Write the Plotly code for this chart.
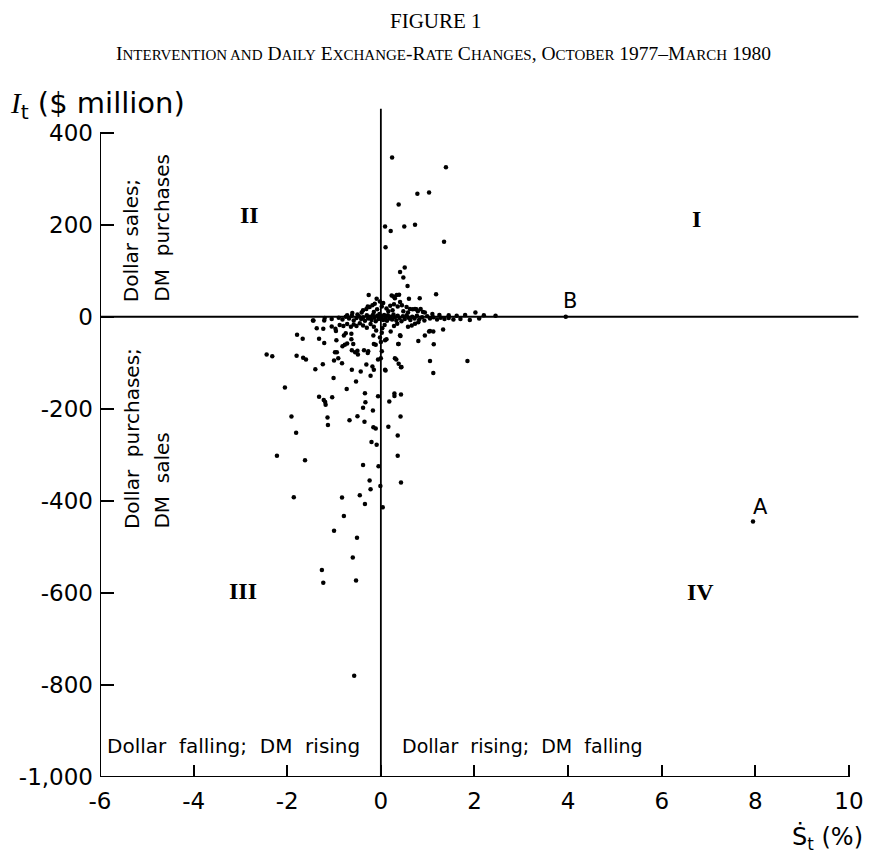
import plotly.graph_objects as go

# Daily exchange-rate change (%) and intervention ($ million)
s_t = [
    0.24, 1.39, 0.78, 1.03, 0.38, 0.09, 0.21, 0.50, 0.73, 1.35, 0.10, 0.51, 0.41, 0.48, 0.57, 1.18,
    -0.26, -0.09, 0.23, 0.27, 0.34, 0.39, 0.60, 0.83, 0.41, 0.30, 0.05, -0.18, -0.13, -0.02, 0.20,
    0.28, 0.36, 0.45, 0.55, 0.62, 0.73, 0.79, 0.68, 0.76, 0.85, 0.90, 0.94, 2.02, -0.61, -0.41,
    -0.38, -0.31, -0.24, -0.28, 0.12, 0.16, -0.08, 0.02, 0.25, 0.48, 0.58, -0.50, -0.15, 1.10,
    1.25, 1.45, 1.62, 1.80, 2.20, 2.45, -0.72,
    -0.90, -0.82, -0.75, -0.68, -0.62, -0.58, -0.52, -0.47, -0.42, -0.38, -0.34, -0.30, -0.27,
    -0.23, -0.20, -0.17, -0.14, -0.11, -0.08, -0.05, -0.03, 0.00, 0.02, 0.05, 0.07, 0.10, 0.13,
    0.15, 0.18, 0.21, 0.24, 0.27, 0.30, 0.33, 0.36, 0.40, 0.44, 0.47, 0.51, 0.55, 0.59, 0.63,
    0.67, 0.72, 0.77, 0.82, 0.88, 0.93, 0.99, 1.05, 1.12, 1.20, 1.28, 1.36, 1.45, 1.55, 1.70,
    1.90, 2.10, -1.05, -1.20, -1.45, -1.21, -1.37,
    -1.79, -1.67, -1.44, -1.23, -1.05, -0.97, -0.96, -0.88, -0.80, -0.72, -0.64, -0.58, -0.52,
    -0.45, -0.38, -0.30, -0.22, -0.15, -0.79, -0.75, -0.63, -0.63, -0.16, -0.10, 0.03, 0.08,
    0.21, 0.28, 0.35, 0.42, 0.41, 0.58, 0.66, 0.73, 0.80, 0.94, 1.03, 1.12, 1.33, 1.05, 0.12,
    0.09, -0.02, 0.02,
    -2.44, -2.32, -1.80, -1.66, -1.60, -1.32, -1.21, -0.95, -0.59, -0.77, -0.72, -0.82, -0.98,
    -0.94, -0.91, -1.00, -0.83, -0.62, -0.55, -0.50, -0.36, -0.28, -0.49, -0.27, -0.15, -0.11,
    0.00, 0.02, 0.00, 0.38, 0.37, 0.80, 1.13, 0.30, 0.33, 0.38, 0.43, 0.44, 0.10, 0.09, -0.06,
    1.05, 1.85, 1.12, -1.40, -1.24, -1.01, -0.62, -0.43, -0.31, -0.18, -0.15, -0.22, -0.53,
    -0.73, -2.05, -0.34, -0.06, 0.29, 0.29, 0.43, 0.18, -1.32, -1.22, -1.19, -1.18, -1.04,
    -0.33, -0.38, -0.17, -1.91, -1.14, -1.13, -0.67, -0.50, -0.35, -0.16, -0.11, 0.16, 0.42,
    -1.81, 0.36, -0.20, -0.09, -2.22, -1.62, 0.36, -0.38, -0.05, 0.43, -0.24, -0.01, -0.22,
    -1.86, -0.83, -0.45, -0.34, -0.79, 0.04, -1.00, -0.51, -0.60, -1.23, -0.53, -0.57, -1.26,
    3.95, 7.95,
]
i_t = [
    346, 325, 267, 270, 244, 196, 186, 196, 200, 163, 151, 107, 97, 85, 67, 49,
    47, 39, 46, 44, 47, 48, 39, 40, 32, 40, 30, 25, 28, 33, 24,
    27, 22, 25, 21, 17, 17, 12, 16, 16, 17, 10, 9, 9, 8, 9,
    14, 17, 21, 22, 18, 12, 16, 22, 14, 12, 9, 5, 10, 6,
    4, 3, 2, 4, 3, 2, 3,
    -2, -6, 0, -4, 2, -8, -3, 1, -5, -1, -9, 3, -4,
    0, -7, 4, -2, -10, 2, -5, 6, -3, 1, -7, 4, -2, -9,
    3, -4, 0, -6, 5, -1, -8, 2, -3, -10, 1, -5, 3, -2, -7,
    0, -4, 2, -6, -1, -8, 1, -4, -1, -6, -2, -5, -3, -6, -5,
    -7, -4, -5, -3, -8, -8, -25,
    -39, -48, -8, -26, -21, -26, -31, -18, -20, -16, -22, -17, -20,
    -14, -19, -24, -16, -22, -41, -36, -37, -49, -41, -30, -25, -18,
    -32, -20, -15, -42, -40, -22, -19, -15, -12, -41, -32, -32, -28, -31, -49,
    -51, -45, -35,
    -82, -86, -85, -89, -93, -48, -57, -51, -59, -61, -58, -64, -77,
    -77, -90, -95, -101, -73, -77, -74, -73, -79, -82, -75, -59, -61,
    -55, -75, -90, -59, -59, -53, -60, -90, -93, -102, -110, -109, -117, -115, -93,
    -96, -96, -122, -114, -103, -133, -115, -119, -104, -108, -115, -128, -141,
    -157, -154, -166, -173, -167, -172, -169, -184, -174, -181, -185, -191, -175,
    -186, -198, -204, -217, -219, -235, -225, -216, -228, -240, -243, -239, -217,
    -252, -258, -272, -278, -302, -312, -302, -322, -325, -360, -356, -368, -375,
    -392, -393, -388, -407, -433, -414, -465, -480, -523, -578, -573, -780, -550,
    0, -445,
]

x_ticks = [-6, -4, -2, 0, 2, 4, 6, 8, 10]
x_tick_text = ["-6", "-4", "-2", "0", "2", "4", "6", "8", "10"]
y_ticks = [-1000, -800, -600, -400, -200, 0, 200, 400]
y_tick_text = ["-1,000", "-800", "-600", "-400", "-200", "0", "200", "400"]

SANS = "DejaVu Sans"
SERIF = "Liberation Serif"

fig = go.Figure()
fig.add_trace(go.Scatter(
    x=s_t, y=i_t, mode="markers",
    marker=dict(size=4.5, color="black", line=dict(width=0)),
    showlegend=False, hoverinfo="skip",
))

line = dict(color="black", width=2)
shapes = [
    dict(type="line", xref="x", yref="y", x0=-6, x1=-6, y0=-1000, y1=400, line=line),
    dict(type="line", xref="x", yref="y", x0=-6, x1=10, y0=-1000, y1=-1000, line=line),
    dict(type="line", xref="x", yref="y", x0=-6, x1=10.2, y0=0, y1=0, line=dict(color="black", width=1.8)),
    dict(type="line", xref="x", yref="y", x0=0, x1=0, y0=-1000, y1=452, line=dict(color="black", width=1.8)),
]

sc = "font-size:15px"
subtitle = (f"I<span style='{sc}'>NTERVENTION AND</span> D<span style='{sc}'>AILY</span> "
            f"E<span style='{sc}'>XCHANGE</span>-R<span style='{sc}'>ATE</span> "
            f"C<span style='{sc}'>HANGES</span>, O<span style='{sc}'>CTOBER</span> 1977–"
            f"M<span style='{sc}'>ARCH</span> 1980")

ann = []
def A(text, x, y, size, family=SANS, xref="x", yref="y", xanchor="center", yanchor="middle", angle=0):
    ann.append(dict(text=text, x=x, y=y, xref=xref, yref=yref, xanchor=xanchor, yanchor=yanchor,
                    textangle=angle, showarrow=False, font=dict(family=family, size=size, color="black")))

A("FIGURE 1", 0.440, 1.125, 21, SERIF, "paper", "paper")
A(subtitle, 0.450, 1.077, 19.5, SERIF, "paper", "paper")
A("<span style='font-family:Liberation Serif'><i>I</i></span><sub>t</sub> ($ million)",
  -0.121, 1.0, 29, SANS, "paper", "paper", xanchor="left")
A("Ṡ<sub>t</sub> (%)", 1.003, -0.091, 24, SANS, "paper", "paper", xanchor="right")

A("<b>II</b>", -2.8, 222, 24, SERIF)
A("<b>I</b>", 6.75, 213, 24, SERIF)
A("<b>III</b>", -2.95, -596, 24, SERIF)
A("<b>IV</b>", 6.82, -598, 24, SERIF)
A("B", 4.04, 35, 21)
A("A", 8.1, -413, 21)

A("Dollar sales;", -5.32, 28, 20, angle=-90, yanchor="bottom")
A("DM  purchases", -4.68, 28, 20, angle=-90, yanchor="bottom")
A("Dollar  purchases;", -5.32, -465, 20, angle=-90, yanchor="bottom")
A("DM  sales", -4.68, -465, 20, angle=-90, yanchor="bottom")
A("Dollar  falling;  DM  rising", -5.9, -933, 20, xanchor="left")
A("Dollar  rising;  DM  falling", 0.4, -933, 19, xanchor="left")

# page body has an 8px margin: figure is sized so the plot lands where the reference has it
fig.update_layout(
    width=856, height=845,
    margin=dict(l=92, r=1, t=97, b=76, autoexpand=False),
    paper_bgcolor="white", plot_bgcolor="white",
    shapes=shapes, annotations=ann,
    xaxis=dict(range=[-6, 10.3], tickvals=x_ticks, ticktext=x_tick_text, ticks="inside",
               ticklen=12, tickwidth=2, tickcolor="black", showgrid=False, zeroline=False,
               showline=False, automargin=False, ticklabelstandoff=8,
               tickfont=dict(family=SANS, size=23, color="black")),
    yaxis=dict(range=[-1000, 460], tickvals=y_ticks, ticktext=y_tick_text, ticks="inside",
               ticklen=14, tickwidth=2, tickcolor="black", showgrid=False, zeroline=False,
               showline=False, automargin=False, ticklabelstandoff=6,
               tickfont=dict(family=SANS, size=23, color="black")),
)

fig.write_html("out.html")
